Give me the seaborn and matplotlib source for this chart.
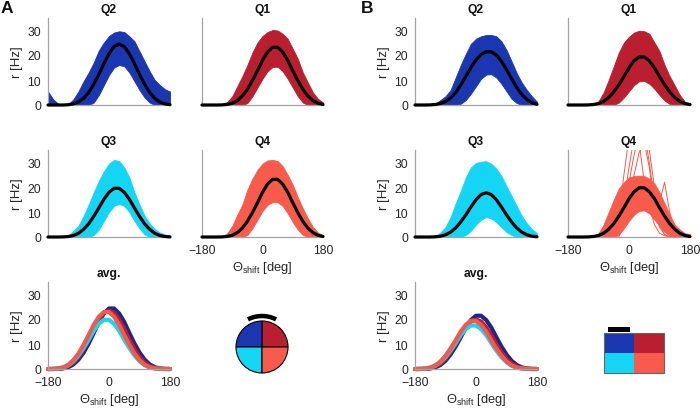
import matplotlib
matplotlib.use("Agg")
import matplotlib.pyplot as plt
import numpy as np
import pandas as pd
import seaborn as sns
from matplotlib.patches import Wedge, Arc, Rectangle

# ---------------- data ----------------
theta = [-180, -165, -150, -135, -120, -105, -90, -75, -60, -45, -30, -15, 0,
         15, 30, 45, 60, 75, 90, 105, 120, 135, 150, 165, 180]
yticks = [0, 10, 20, 30]
xticks = [-180, 0, 180]

# Panel A
A_Q2_mean = [0, 0, 0, 0, 0.12, 0.44, 1.22, 2.68, 5.0, 8.3, 12.2, 16.6, 20.5, 23.4, 24.4, 23.4, 20.5, 16.6, 12.2, 8.3, 5.0, 2.68, 1.22, 0.44, 0.12]
A_Q2_upper = [5.4, 2.3, 0.5, 0, 0.3, 2.3, 5.5, 9.5, 13, 17, 21.8, 25, 27.6, 29, 29.5, 29.2, 27.5, 25.5, 21.5, 17.5, 13.5, 10, 8, 6.3, 5.4]
A_Q2_lower = [0, 0, 0, 0, 0, 0, 0, 0, 0, 1, 4, 8, 12, 15, 16, 15.5, 13, 9.5, 6, 3, 1, 0, 0, 0, 0]

A_Q1_mean = [0, 0, 0, 0, 0.05, 0.23, 0.7, 1.75, 3.6, 6.3, 9.8, 13.7, 17.9, 21.2, 23.1, 23.1, 21.2, 17.9, 13.7, 9.8, 6.3, 3.6, 1.75, 0.7, 0.23]
A_Q1_upper = [0, 0, 0, 0, 0.3, 1.2, 3.5, 7.5, 11.5, 16, 21, 25, 27.6, 29.2, 30, 29.8, 28.5, 26.5, 22.5, 18.5, 13, 9, 5, 2.5, 1]
A_Q1_lower = [0, 0, 0, 0, 0, 0, 0, 0, 0, 0.8, 3.5, 7, 10.5, 13.5, 15.2, 15.3, 13.5, 10.5, 7, 3.5, 1, 0, 0, 0, 0]

A_Q3_mean = [0, 0, 0, 0.04, 0.2, 0.6, 1.5, 3.1, 5.3, 8.3, 11.7, 15.2, 18.0, 19.6, 19.6, 18.0, 15.2, 11.7, 8.3, 5.3, 3.1, 1.5, 0.6, 0.2, 0.04]
A_Q3_upper = [0, 0, 0, 0, 0.4, 2.5, 4.5, 8.5, 13, 18, 22.5, 26.5, 29.5, 31, 30.6, 28, 24, 18, 13, 8.5, 5.5, 3.2, 1.8, 1, 0.5]
A_Q3_lower = [0, 0, 0, 0, 0, 0, 0, 0, 0, 0.8, 3, 6.5, 10, 12.5, 13.4, 12.5, 10, 6.5, 3.5, 1, 0, 0, 0, 0, 0]

A_Q4_mean = [0, 0, 0, 0, 0.05, 0.23, 0.7, 1.75, 3.6, 6.3, 9.8, 13.8, 18.0, 21.3, 23.2, 23.2, 21.3, 18.0, 13.8, 9.8, 6.3, 3.6, 1.75, 0.7, 0.23]
A_Q4_upper = [0, 0, 0, 0, 0.2, 1.5, 4.5, 9, 13, 19, 23.5, 27, 29.5, 30.8, 31, 30.6, 28.5, 25, 21, 16, 11.5, 7.5, 4, 1.8, 0.6]
A_Q4_lower = [0, 0, 0, 0, 0, 0, 0, 0, 0, 0.8, 3.5, 7, 10.5, 13, 14, 14, 12.5, 9.5, 6, 3, 0.8, 0, 0, 0, 0]

# Panel B
B_Q2_mean = [0, 0, 0, 0.05, 0.2, 0.6, 1.4, 2.8, 5, 8, 11.5, 15, 18, 20.2, 21.3, 21.3, 20, 17.5, 14.2, 10.5, 7, 4.2, 2.2, 0.9, 0.3]
B_Q2_upper = [0, 0, 0, 0, 0.5, 2, 3.5, 6, 11, 16, 20.5, 24.5, 26.5, 27.5, 28, 28, 27.5, 25.5, 22, 17.5, 12.8, 9, 6, 3.5, 1.3]
B_Q2_lower = [0, 0, 0, 0, 0, 0, 0, 0, 0, 0.5, 2, 4.5, 7.5, 10.5, 12.2, 12.3, 11, 8.5, 5.5, 2.5, 0.8, 0, 0, 0, 0]

B_Q1_mean = [0, 0, 0, 0, 0.04, 0.19, 0.58, 1.45, 3.0, 5.2, 8.1, 11.4, 14.9, 17.7, 19.2, 19.2, 17.7, 14.9, 11.4, 8.1, 5.2, 3.0, 1.45, 0.58, 0.19]
B_Q1_upper = [0, 0, 0, 0, 0.1, 0.5, 1.5, 5, 10, 15.5, 21, 25, 27.3, 29, 29.7, 29.5, 28.5, 25, 21.5, 16, 11.5, 7.8, 4, 1.3, 0.3]
B_Q1_lower = [0, 0, 0, 0, 0, 0, 0, 0, 0, 0, 1, 3, 5.5, 8, 9.5, 9.6, 8.5, 6.5, 4, 1.8, 0.4, 0, 0, 0, 0]

B_Q3_mean = [0, 0, 0, 0, 0.09, 0.32, 0.9, 1.96, 3.65, 6.05, 8.9, 12.1, 15.0, 17.1, 17.8, 17.1, 15.0, 12.1, 8.9, 6.05, 3.65, 1.96, 0.9, 0.32, 0.09]
B_Q3_upper = [0, 0, 0, 0, 0.3, 1.8, 4, 8, 13.5, 18.5, 24, 28, 29.8, 30.3, 30.5, 29.5, 27.5, 24.5, 20.5, 16.5, 12.5, 8.5, 5.5, 3.2, 1.5]
B_Q3_lower = [0, 0, 0, 0, 0, 0, 0, 0, 0, 0, 0.8, 2.5, 5, 7, 8, 7.5, 6, 4, 2, 0.8, 0, 0, 0, 0, 0]

B_Q4_mean = [0, 0, 0, 0, 0.04, 0.2, 0.6, 1.5, 3.1, 5.4, 8.4, 11.8, 15.4, 18.2, 19.8, 19.8, 18.2, 15.4, 11.8, 8.4, 5.4, 3.1, 1.5, 0.6, 0.2]
B_Q4_upper = [0, 0, 0, 0, 0.1, 0.5, 1.5, 5, 10, 15, 19.5, 22, 24, 24.5, 24.7, 24.5, 23.5, 21.5, 18, 13.5, 9, 5, 3, 1.5, 1.2]
B_Q4_lower = [0, 0, 0, 0, 0, 0, 0, 0, 0, 0, 1, 3.5, 6.5, 9, 10.5, 10.7, 9.5, 7, 4.5, 2, 0.5, 0, 0, 0, 0]
# a few individual curves of B-Q4 that leave the band
B_Q4_out1 = [0, 0, 0, 0, 0, 0, 0, 0, 0, 0, 8, 25, 40, 45, 38, 22, 12, 5, 1.5, 0.5, 0, 0, 0, 0, 0]
B_Q4_out2 = [0, 0, 0, 0, 0, 0, 0, 0, 0, 0, 4, 14, 28, 40, 45, 42, 30, 14, 5, 1, 0, 0, 0, 0, 0]
B_Q4_out3 = [0, 0, 0, 0, 0, 0, 0, 0, 0, 0, 3, 10, 22, 33, 42, 45, 35, 20, 14, 22, 10, 2, 0.5, 0, 0]
B_Q4_out4 = [0, 0, 0, 0, 0, 0, 0, 0, 0, 0, 0, 6, 15, 25, 34, 38, 28, 12, 4, 1, 0, 0, 0, 0, 0]

# averaged (shifted) tuning curves
avgA_Q2 = [0, 0, 0.05, 0.24, 0.73, 1.83, 3.78, 6.6, 10.2, 14.4, 18.8, 22.2, 24.2, 24.2, 22.2, 18.8, 14.4, 10.2, 6.6, 3.78, 1.83, 0.73, 0.24, 0.05, 0]
avgA_Q1 = [0, 0, 0.12, 0.42, 1.17, 2.57, 4.8, 7.96, 11.7, 15.9, 19.7, 22.5, 23.4, 22.5, 19.7, 15.9, 11.7, 7.96, 4.8, 2.57, 1.17, 0.42, 0.12, 0, 0]
avgA_Q3 = [0, 0.04, 0.2, 0.6, 1.5, 3.1, 5.4, 8.4, 11.7, 15.3, 18.1, 19.7, 19.7, 18.1, 15.3, 11.7, 8.4, 5.4, 3.1, 1.5, 0.6, 0.2, 0.04, 0, 0]
avgA_Q4 = [0, 0.05, 0.23, 0.69, 1.73, 3.57, 6.2, 9.7, 13.6, 17.7, 20.9, 22.8, 22.8, 20.9, 17.7, 13.6, 9.7, 6.2, 3.57, 1.73, 0.69, 0.23, 0.05, 0, 0]

avgB_Q2 = [0, 0, 0.04, 0.22, 0.65, 1.6, 3.3, 5.8, 9.0, 12.7, 16.6, 19.6, 21.3, 21.3, 19.6, 16.6, 12.7, 9.0, 5.8, 3.3, 1.6, 0.65, 0.22, 0.04, 0]
avgB_Q1 = [0, 0, 0.1, 0.36, 0.99, 2.18, 4.06, 6.73, 9.9, 13.5, 16.6, 19.0, 19.8, 19.0, 16.6, 13.5, 9.9, 6.73, 4.06, 2.18, 0.99, 0.36, 0.1, 0, 0]
avgB_Q3 = [0, 0.04, 0.18, 0.53, 1.32, 2.73, 4.75, 7.4, 10.4, 13.6, 16.0, 17.4, 17.4, 16.0, 13.6, 10.4, 7.4, 4.75, 2.73, 1.32, 0.53, 0.18, 0.04, 0, 0]
avgB_Q4 = [0, 0.04, 0.2, 0.59, 1.46, 3.0, 5.3, 8.2, 11.5, 15.0, 17.7, 19.3, 19.3, 17.7, 15.0, 11.5, 8.2, 5.3, 3.0, 1.46, 0.59, 0.2, 0.04, 0, 0]

quadrants = ["Q2", "Q1", "Q3", "Q4"]
colors = {"Q2": "#1a36b0", "Q1": "#b91f2e", "Q3": "#14d6f4", "Q4": "#f85b4c"}
avg_colors = {"Q2": "#1c2690", "Q1": "#b4202e", "Q3": "#1fd2ee", "Q4": "#f2594c"}

# ---------------- style ----------------
sns.set_style("white")
plt.rcParams["font.family"] = ["Liberation Sans", "DejaVu Sans"]
plt.rcParams["mathtext.fontset"] = "custom"
plt.rcParams["mathtext.rm"] = "Liberation Sans"
plt.rcParams["mathtext.it"] = "Liberation Sans:italic"
plt.rcParams["mathtext.bf"] = "Liberation Sans:bold"

W, H = 700, 410
fig = plt.figure(figsize=(7, 4.1), dpi=100)
SPINE = "#a3a3a3"
TXT = "#262626"


def px_axes(l, t, r, b):
    return fig.add_axes([l / W, 1 - b / H, (r - l) / W, (b - t) / H])


def style(ax, title, ylab, xlab):
    ax.set_xlim(-180, 180)
    ax.set_ylim(0, 35)
    ax.set_xticks(xticks)
    ax.set_yticks(yticks)
    for s in ["top", "right"]:
        ax.spines[s].set_visible(False)
    for s in ["left", "bottom"]:
        ax.spines[s].set_color(SPINE)
        ax.spines[s].set_linewidth(0.9)
    ax.tick_params(direction="in", length=2, width=0.8, color=SPINE,
                   labelsize=8.7, pad=5, labelcolor=TXT)
    if ylab:
        ax.set_ylabel("r [Hz]", fontsize=9.5, color=TXT, labelpad=3)
    else:
        ax.set_ylabel("")
        ax.tick_params(labelleft=False)
    if xlab:
        ax.set_xlabel(r"$\Theta_{\mathrm{shift}}$ [deg]", fontsize=9.3, color=TXT, labelpad=2)
    else:
        ax.set_xlabel("")
        ax.tick_params(labelbottom=False)
    ax.set_title(title, fontsize=8.7, fontweight="bold", color="#111111", pad=4)


def quad_panel(box, q, mean, upper, lower, ylab, xlab, extra=None):
    ax = px_axes(*box)
    ax.fill_between(theta, lower, upper, color=colors[q], lw=0.6,
                    edgecolor=colors[q], zorder=1)
    if extra is not None:
        sns.lineplot(data=extra, x="theta", y="rate", units="line", estimator=None,
                     color=colors[q], lw=0.7, ax=ax, zorder=1.5)
    df = pd.DataFrame({"theta": theta, "rate": mean})
    sns.lineplot(data=df, x="theta", y="rate", color="black", lw=2.3,
                 estimator=None, ax=ax, zorder=3, clip_on=False)
    style(ax, q, ylab, xlab)
    return ax


def avg_panel(box, curves):
    ax = px_axes(*box)
    df = pd.concat([pd.DataFrame({"theta": theta, "rate": curves[q], "quadrant": q})
                    for q in quadrants], ignore_index=True)
    sns.lineplot(data=df, x="theta", y="rate", hue="quadrant", hue_order=quadrants,
                 palette=avg_colors, lw=3.0, estimator=None, legend=False, ax=ax,
                 clip_on=False)
    style(ax, "avg.", True, True)
    return ax


outB = pd.concat([pd.DataFrame({"theta": theta, "rate": v, "line": i})
                  for i, v in enumerate([B_Q4_out1, B_Q4_out2, B_Q4_out3, B_Q4_out4])],
                 ignore_index=True)

# Panel A
quad_panel((48, 18.5, 170, 106), "Q2", A_Q2_mean, A_Q2_upper, A_Q2_lower, True, False)
quad_panel((202, 18.5, 323, 106), "Q1", A_Q1_mean, A_Q1_upper, A_Q1_lower, False, False)
quad_panel((48, 151, 170, 238), "Q3", A_Q3_mean, A_Q3_upper, A_Q3_lower, True, False)
quad_panel((202, 151, 323, 238), "Q4", A_Q4_mean, A_Q4_upper, A_Q4_lower, False, True)
avg_panel((48, 282.5, 170, 370), {"Q2": avgA_Q2, "Q1": avgA_Q1, "Q3": avgA_Q3, "Q4": avgA_Q4})

# Panel B
quad_panel((415, 18.5, 537, 106), "Q2", B_Q2_mean, B_Q2_upper, B_Q2_lower, True, False)
quad_panel((568, 18.5, 690, 106), "Q1", B_Q1_mean, B_Q1_upper, B_Q1_lower, False, False)
quad_panel((415, 151, 537, 238), "Q3", B_Q3_mean, B_Q3_upper, B_Q3_lower, True, False)
quad_panel((568, 151, 690, 238), "Q4", B_Q4_mean, B_Q4_upper, B_Q4_lower, False, True, extra=outB)
avg_panel((415, 282.5, 537, 370), {"Q2": avgB_Q2, "Q1": avgB_Q1, "Q3": avgB_Q3, "Q4": avgB_Q4})

# ---------------- icons & panel letters (pixel coordinates) ----------------
ov = fig.add_axes([0, 0, 1, 1], zorder=-1)
ov.set_xlim(0, W)
ov.set_ylim(0, H)
ov.axis("off")

cx, cy, r = 262, H - 348, 26
for q, (a1, a2) in {"Q1": (0, 90), "Q2": (90, 180), "Q3": (180, 270), "Q4": (270, 360)}.items():
    ov.add_patch(Wedge((cx, cy), r, a1, a2, facecolor=colors[q], edgecolor="black", lw=0.8))
ov.add_patch(Arc((cx, cy), 62, 62, theta1=63, theta2=117, color="black", lw=3.2))

rx, ry, cw, ch = 604, H - 374, 30, 20
ov.add_patch(Rectangle((rx, ry + ch), cw, ch, facecolor=colors["Q2"], lw=0))
ov.add_patch(Rectangle((rx + cw, ry + ch), cw, ch, facecolor=colors["Q1"], lw=0))
ov.add_patch(Rectangle((rx, ry), cw, ch, facecolor=colors["Q3"], lw=0))
ov.add_patch(Rectangle((rx + cw, ry), cw, ch, facecolor=colors["Q4"], lw=0))
ov.add_patch(Rectangle((rx, ry), 2 * cw, 2 * ch, facecolor="none", edgecolor="#666666", lw=0.8))
ov.add_patch(Rectangle((608, H - 332.7), 22, 4.4, facecolor="black", lw=0))

fig.text(1 / W, 1 - 1 / H, "A", fontsize=12.5, fontweight="bold", va="top", ha="left", color="#111111")
fig.text(361 / W, 1 - 1 / H, "B", fontsize=12.5, fontweight="bold", va="top", ha="left", color="#111111")

fig.savefig("out.png", dpi=100)
